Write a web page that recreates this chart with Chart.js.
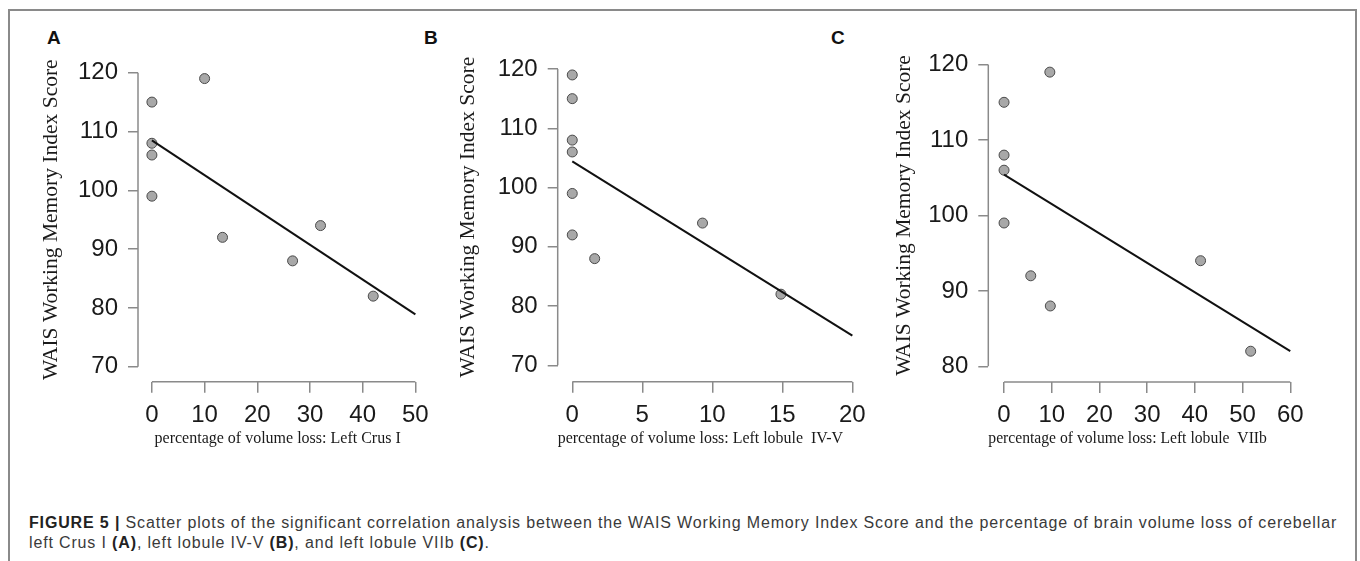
<!DOCTYPE html>
<html>
<head>
<meta charset="utf-8">
<script src="https://cdn.jsdelivr.net/npm/chart.js@4.4.1/dist/chart.umd.min.js"></script>
<style>
  body { margin: 0; background: #fff; width: 1360px; height: 561px; position: relative; overflow: hidden; }
  .frame { position: absolute; left: 8px; top: 9px; width: 1349px; height: 570px; border: 2px solid #8a8a8a; box-sizing: border-box; }
  .panel { position: absolute; top: 0; height: 448px; }
  .letter { position: absolute; font: bold 19px "Liberation Sans", Arial, sans-serif; color: #111; }
  .caption { position: absolute; left: 29px; top: 513px; font: 16px "Liberation Sans", Arial, sans-serif; letter-spacing: 0.85px; line-height: 20px; color: #3a3a3a; white-space: nowrap; }
  .caption b { color: #222; }
</style>
</head>
<body>
<div class="frame"></div>
<div class="letter" style="left:47px;top:27px">A</div>
<div class="letter" style="left:424px;top:27px">B</div>
<div class="letter" style="left:831px;top:27px">C</div>

<div class="panel" style="left:38px;width:399px"><canvas id="chartA"></canvas></div>
<div class="panel" style="left:455px;width:419px"><canvas id="chartB"></canvas></div>
<div class="panel" style="left:891px;width:421px"><canvas id="chartC"></canvas></div>

<div class="caption"><b>FIGURE 5 |</b> Scatter plots of the significant correlation analysis between the WAIS Working Memory Index Score and the percentage of brain volume loss of cerebellar<br>left Crus I <b>(A)</b>, left lobule IV-V <b>(B)</b>, and left lobule VIIb <b>(C)</b>.</div>

<script>
// values
const yTitle = "WAIS Working Memory Index Score";

// panel A - Left Crus I
const lossA  = [0, 0, 0, 0, 10, 13.4, 26.7, 32, 42];
const scoreA = [115, 108, 106, 99, 119, 92, 88, 94, 82];
const fitXA  = [0, 50];
const fitYA  = [108.5, 78.9];
const xTicksA = [0, 10, 20, 30, 40, 50];
const yTicksA = [70, 80, 90, 100, 110, 120];

// panel B - Left lobule IV-V
const lossB  = [0, 0, 0, 0, 0, 0, 1.6, 9.3, 14.9];
const scoreB = [119, 115, 108, 106, 99, 92, 88, 94, 82];
const fitXB  = [0, 20];
const fitYB  = [104.4, 75.0];
const xTicksB = [0, 5, 10, 15, 20];
const yTicksB = [70, 80, 90, 100, 110, 120];

// panel C - Left lobule VIIb
const lossC  = [0, 0, 0, 0, 5.6, 9.6, 9.7, 41.2, 51.7];
const scoreC = [115, 108, 106, 99, 92, 119, 88, 94, 82];
const fitXC  = [0, 60];
const fitYC  = [105.4, 82.0];
const xTicksC = [0, 10, 20, 30, 40, 50, 60];
const yTicksC = [80, 90, 100, 110, 120];

const axisGray = '#8a8a8a';

// R style axes: line only runs from first to last tick
const rAxisPlugin = {
  id: 'rAxis',
  afterDraw(chart) {
    let ctx = chart.ctx;
    let xs = chart.scales.x;
    let ys = chart.scales.y;
    let area = chart.chartArea;
    ctx.save();
    ctx.strokeStyle = axisGray;
    ctx.lineWidth = 1.5;
    ctx.beginPath();
    ctx.moveTo(xs.getPixelForValue(xs.ticks[0].value), area.bottom);
    ctx.lineTo(xs.getPixelForValue(xs.ticks[xs.ticks.length - 1].value), area.bottom);
    ctx.moveTo(area.left, ys.getPixelForValue(ys.ticks[0].value));
    ctx.lineTo(area.left, ys.getPixelForValue(ys.ticks[ys.ticks.length - 1].value));
    ctx.stroke();
    ctx.restore();
  }
};

function toPoints(xs, ys)
{
  return xs.map((x, i) => ({ x: x, y: ys[i] }));
}

function drawPanel(id, cfg)
{
  let ctx = document.getElementById(id).getContext('2d');
  return new Chart(ctx,
  {
    type: 'scatter',
    data:
    {
      datasets: [
      {
        type: 'line',
        data: toPoints(cfg.fitX, cfg.fitY),
        borderColor: '#111',
        borderWidth: 2,
        pointRadius: 0,
        fill: false,
        order: 0,
      },
      {
        data: toPoints(cfg.x, cfg.y),
        backgroundColor: '#a8a8a8',
        borderColor: '#4a4a4a',
        borderWidth: 1,
        pointRadius: 5,
        order: 1,
      }, ],
    },
    options:
    {
      responsive: true,
      maintainAspectRatio: false,
      animation: false,
      events: [],
      layout: { padding: { top: cfg.padTop, left: 0, right: 0, bottom: 0 } },
      plugins: { legend: { display: false }, tooltip: { enabled: false } },
      scales:
      {
        x:
        {
          type: 'linear',
          position: 'bottom',
          min: cfg.xMin,
          max: cfg.xMax,
          afterBuildTicks: (s) => { s.ticks = cfg.xTicks.map(v => ({ value: v })); },
          afterFit: (s) => { s.height = cfg.xAxisH; },
          border: { display: false },
          grid: { drawOnChartArea: false, drawTicks: true, tickLength: 11, color: axisGray, lineWidth: 1.5 },
          ticks: { autoSkip: false, maxRotation: 0, padding: 8, color: '#1a1a1a',
                   font: { family: '"Liberation Sans", Arial', size: 24 } },
          title: { display: true, text: cfg.xTitle, color: '#1a1a1a', padding: 0,
                   font: { family: '"Liberation Serif", "Times New Roman"', size: 16 } },
        },
        y:
        {
          type: 'linear',
          min: cfg.yMin,
          max: cfg.yMax,
          afterBuildTicks: (s) => { s.ticks = cfg.yTicks.map(v => ({ value: v })); },
          afterFit: (s) => { s.width = cfg.yAxisW; },
          border: { display: false },
          grid: { drawOnChartArea: false, drawTicks: true, tickLength: 10, color: axisGray, lineWidth: 1.5 },
          ticks: { padding: 10, color: '#1a1a1a',
                   font: { family: '"Liberation Sans", Arial', size: 24 } },
          title: { display: true, text: yTitle, color: '#1a1a1a', padding: 0,
                   font: { family: '"Liberation Serif", "Times New Roman"', size: 21.5 } },
        },
      },
    },
    plugins: [rAxisPlugin],
  });
}

// trailing spaces nudge the centred x titles left, as in the figure
drawPanel('chartA', {
  x: lossA, y: scoreA, fitX: fitXA, fitY: fitYA, xTicks: xTicksA, yTicks: yTicksA,
  xMin: -2.64, xMax: 52.64, yMin: 67.45, yMax: 122.55,
  xTitle: 'percentage of volume loss: Left Crus I   ',
  padTop: 57.7, yAxisW: 100, xAxisH: 66.3,
});
drawPanel('chartB', {
  x: lossB, y: scoreB, fitX: fitXB, fitY: fitYB, xTicks: xTicksB, yTicks: yTicksB,
  xMin: -1.04, xMax: 21.04, yMin: 67.23, yMax: 122.77,
  xTitle: 'percentage of volume loss: Left lobule  IV-V      ',
  padTop: 52.6, yAxisW: 102.7, xAxisH: 66.3,
});
drawPanel('chartC', {
  x: lossC, y: scoreC, fitX: fitXC, fitY: fitYC, xTicks: xTicksC, yTicks: yTicksC,
  xMin: -3.3, xMax: 63.3, yMin: 77.92, yMax: 122.08,
  xTitle: 'percentage of volume loss: Left lobule  VIIb          ',
  padTop: 48.9, yAxisW: 97.3, xAxisH: 66,
});
</script>
</body>
</html>
